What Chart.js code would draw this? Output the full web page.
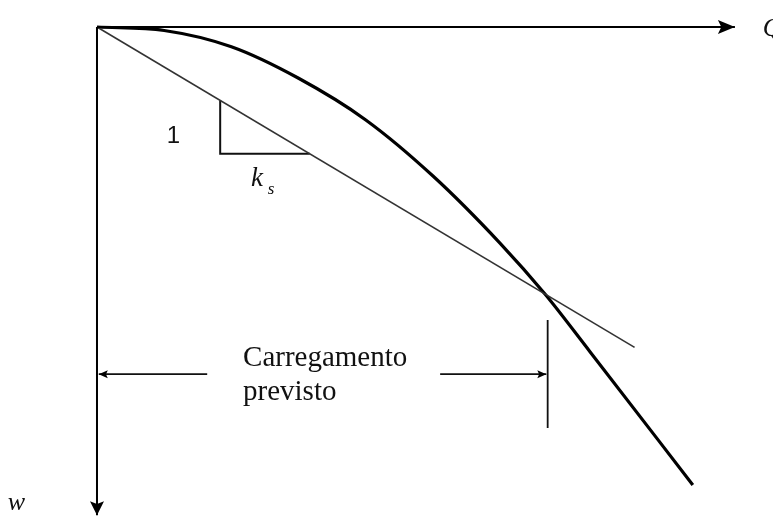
<!DOCTYPE html>
<html>
<head>
<meta charset="utf-8">
<script src="https://cdn.jsdelivr.net/npm/chart.js@4"></script>
<style>
  body { margin: 0; background: #fff; }
  canvas { display: block; }
</style>
</head>
<body>
<canvas id="curveChart" width="773" height="517"></canvas>
<script>
// load (Q) vs settlement (w), units chosen so the design load sits at 100/100
const loadQ = [0, 15, 30, 45, 60, 75, 90, 100, 110, 133];
const settlementW = [0, 1.3, 7.4, 19.2, 34.8, 55.8, 81, 100, 121.5, 171.5];

// secant line with slope k_s
const secantQ = [0, 120];
const secantW = [0, 120];

// slope triangle
const triangleQ = [27.5, 27.5, 47.5];
const triangleW = [27.5, 47.5, 47.5];

// dimension line "Carregamento previsto"
const dimLeftQ = [24.6, 0.4];
const dimRightQ = [76.6, 100.3];
const dimW = 130;
const tickQ = 100.6;
const tickW = [109.7, 150.2];

// axes
const qAxisEnd = 142.4;
const wAxisEnd = 182.8;

const toPoints = (xs, ys) => xs.map((x, i) => ({ x: x, y: Array.isArray(ys) ? ys[i] : ys }));

const labels = [
    { text: 'Carregamento', q: 32.6, w: 127, font: '29px "Liberation Serif"' },
    { text: 'previsto', q: 32.6, w: 139.7, font: '29px "Liberation Serif"' },
    { text: '1', q: 15.6, w: 43.4, font: '24px "Liberation Sans"' },
    { text: 'k', q: 34.4, w: 59.4, font: 'italic 27px "Liberation Serif"' },
    { text: 's', q: 38.1, w: 62.4, font: 'italic 17px "Liberation Serif"' },
    { text: 'Q', q: 148.6, w: 3.4, font: 'italic 26px "Liberation Serif"' },
    { text: 'w', q: -19.9, w: 181, font: 'italic 26px "Liberation Serif"' }
];

// draws arrowheads at the end of datasets that ask for one
const arrowPlugin = {
    id: 'arrows',
    afterDatasetsDraw(chart) {
        const ctx = chart.ctx;
        chart.data.datasets.forEach((ds, i) => {
            if (!ds.arrow) return;
            const pts = chart.getDatasetMeta(i).data;
            const a = pts[pts.length - 2], b = pts[pts.length - 1];
            const ang = Math.atan2(b.y - a.y, b.x - a.x);
            const len = ds.arrow.len, half = ds.arrow.half;
            ctx.save();
            ctx.translate(b.x, b.y);
            ctx.rotate(ang);
            ctx.beginPath();
            ctx.moveTo(0, 0);
            ctx.lineTo(-len, -half);
            ctx.lineTo(-len * 0.8, 0);
            ctx.lineTo(-len, half);
            ctx.closePath();
            ctx.fillStyle = '#000';
            ctx.fill();
            ctx.restore();
        });
    }
};

const textPlugin = {
    id: 'texts',
    afterDraw(chart) {
        const ctx = chart.ctx;
        const xs = chart.scales.x, ys = chart.scales.y;
        ctx.save();
        ctx.fillStyle = '#111';
        ctx.textBaseline = 'alphabetic';
        labels.forEach(l => {
            ctx.font = l.font;
            ctx.fillText(l.text, xs.getPixelForValue(l.q), ys.getPixelForValue(l.w));
        });
        ctx.restore();
    }
};

const line = (data, width, color, extra) => Object.assign({
    data: data,
    borderColor: color,
    borderWidth: width,
    pointRadius: 0,
    fill: false,
    showLine: true
}, extra || {});

const ctx = document.getElementById('curveChart').getContext('2d');
new Chart(ctx, {
    type: 'scatter',
    data: {
        datasets: [
            line(toPoints([0, qAxisEnd], [0, 0]), 2, '#000', { arrow: { len: 17, half: 7 } }),
            line(toPoints([0, 0], [0, wAxisEnd]), 2, '#000', { arrow: { len: 14, half: 7 } }),
            line(toPoints(secantQ, secantW), 1.6, '#333'),
            line(toPoints(triangleQ, triangleW), 2, '#111'),
            line(toPoints(loadQ, settlementW), 3.2, '#000', { cubicInterpolationMode: 'monotone' }),
            line(toPoints(dimLeftQ, dimW), 1.8, '#111', { arrow: { len: 9, half: 4 } }),
            line(toPoints(dimRightQ, dimW), 1.8, '#111', { arrow: { len: 9, half: 4 } }),
            line(toPoints([tickQ, tickQ], tickW), 1.8, '#111')
        ]
    },
    options: {
        responsive: false,
        animation: false,
        layout: { padding: 0 },
        plugins: {
            legend: { display: false },
            tooltip: { enabled: false }
        },
        scales: {
            x: { type: 'linear', display: false, min: -21.65, max: 150.9 },
            y: { type: 'linear', display: false, reverse: true, min: -10.11, max: 183.5 }
        }
    },
    plugins: [arrowPlugin, textPlugin]
});
</script>
</body>
</html>
